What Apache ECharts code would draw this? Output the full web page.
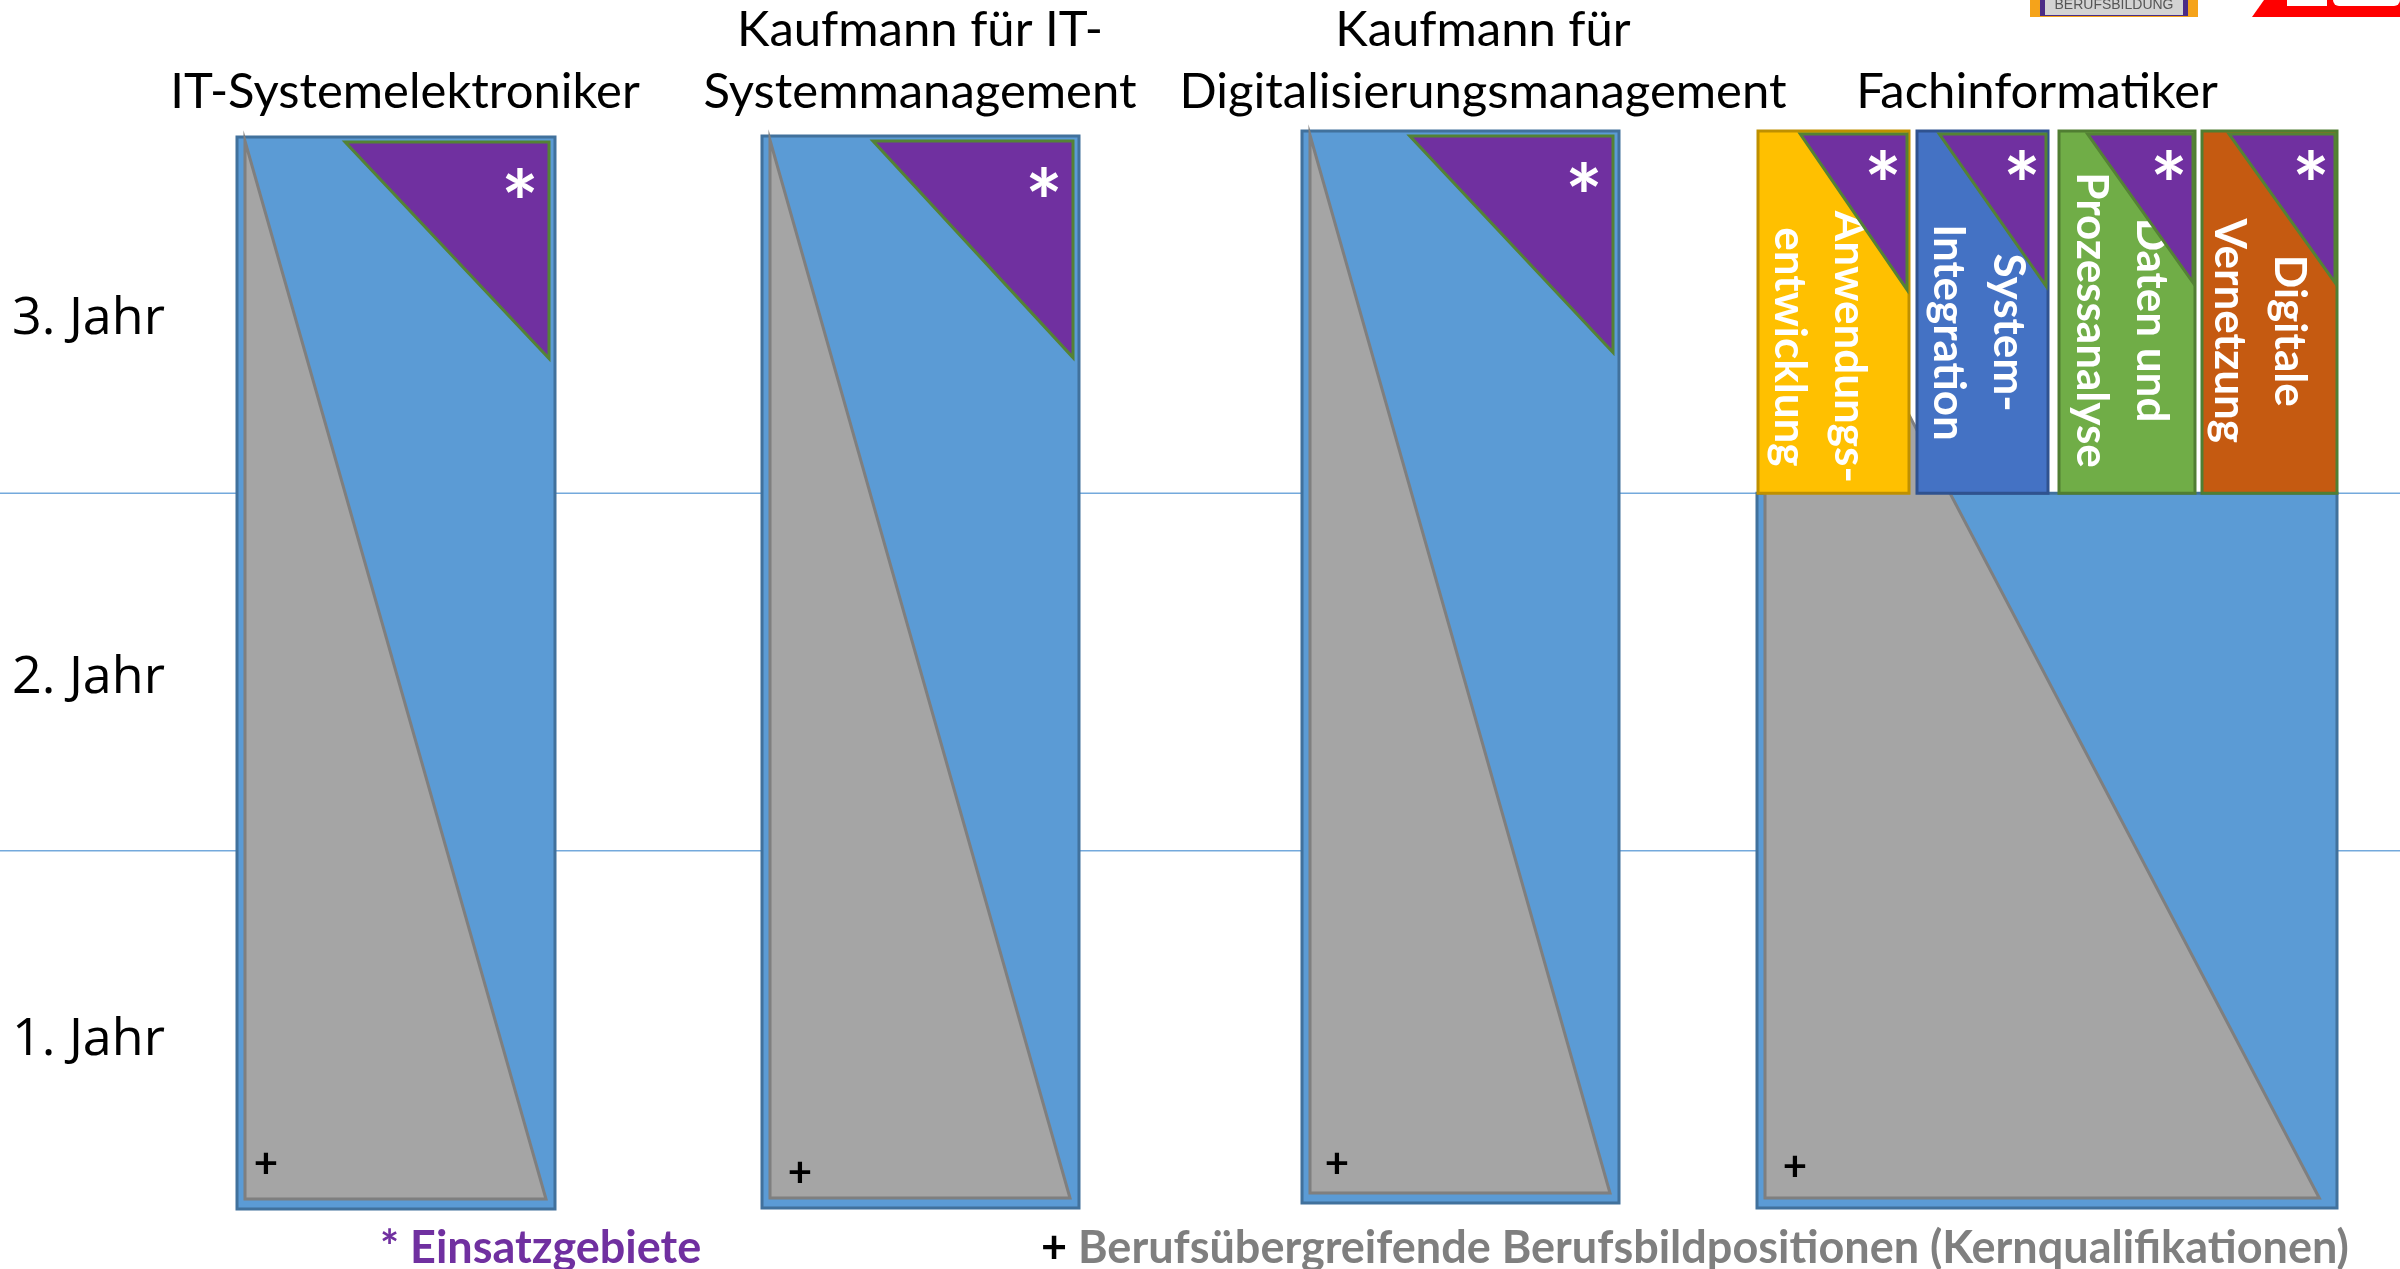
<!DOCTYPE html>
<html>
<head>
<meta charset="utf-8">
<script src="https://cdn.jsdelivr.net/npm/echarts@6/dist/echarts.min.js"></script>
<style>
  html, body { margin: 0; padding: 0; background: #fff; }
  #chart { width: 2400px; height: 1269px; }
</style>
</head>
<body>
<div id="chart"></div>
<script>
// ---- Daten ----
const berufe = ['IT-Systemelektroniker', 'Kaufmann für IT-\nSystemmanagement', 'Kaufmann für\nDigitalisierungsmanagement', 'Fachinformatiker'];
const jahre = ['1. Jahr', '2. Jahr', '3. Jahr'];
const jahrGrenzen = [1, 2];
// Kernqualifikationen (grau): Anteil der Breite im 1. Jahr, Jahr in dem er auf 0 sinkt
const kernStart = [1, 1, 1, 0.985];
const kernEnde = [3, 3, 3, 3];
// Einsatzgebiete (lila): Dauer in Jahren, Anteil der Breite oben
const einsatzDauer = [0.62, 0.62, 0.62, null];
const einsatzAnteil = [0.66, 0.65, 0.66, null];
// Fachinformatiker: Fachrichtungen ab Ende 2. Jahr
const fachrichtungen = ['Anwendungs-\nentwicklung', 'System-\nIntegration', 'Daten und\nProzessanalyse', 'Digitale\nVernetzung'];
const fachBeginn = 2;
const fachEinsatzDauer = [0.43, 0.42, 0.41, 0.41];
const fachEinsatzAnteil = [0.72, 0.83, 0.79, 0.8];

// ---- Layout / Stil ----
const spaltenX = [[237, 555], [762, 1079], [1302, 1619], [1757, 2337]];
const spaltenDy = [1, 0, -5, 0];
const titelX = [405, 920, 1483, 2037];
const plusVersatz = [[0, 0], [9, 10], [6, 6], [9, 4]];
const fachX = [[1758, 1909], [1917, 2048], [2059, 2195], [2202, 2337]];
const fachTextDx = [-14, -4, -6, -10];
const fachTextY = [2.41, 2.45, 2.485, 2.455];
const fachFarben = ['#ffc000', '#4472c4', '#70ad47', '#c55a11'];
const fachRand = ['#bf9000', '#2f528f', '#507e32', '#507e32'];

const fontTitel = '49px Lato';
const fontFach = 'bold 44px Lato';
const fontStern = 'bold 88px Lato';

function stern(x, y) {
  return { type: 'text', x: x, y: y, style: { text: '*', font: fontStern, fill: '#fff', align: 'center', verticalAlign: 'middle' } };
}

function renderGrenze(params, api) {
  const a = api.coord([0, api.value(0)]);
  const b = api.coord([2400, api.value(0)]);
  return { type: 'line', shape: { x1: a[0], y1: a[1], x2: b[0], y2: b[1] }, style: { stroke: '#74a9dc', lineWidth: 1.5 } };
}

function renderSpalte(params, api) {
  const i = api.value(0);
  const dy = spaltenDy[i];
  const xa = spaltenX[i][0], xb = spaltenX[i][1];
  const boxTop = i === 3 ? fachBeginn : 3;
  const bl = api.coord([xa, 0]);
  const tr = api.coord([xb, boxTop]);
  const top3 = api.coord([xa, 3])[1] + dy;
  const L = bl[0], R = tr[0], B = bl[1] + dy, T = tr[1] + dy;
  const els = [];
  els.push({ type: 'rect', shape: { x: L, y: T, width: R - L, height: B - T },
    style: { fill: '#5b9bd5', stroke: '#41719c', lineWidth: 3 } });

  const kTop = api.coord([xa, kernEnde[i]])[1] + dy;
  const kRight = api.coord([xa + (xb - xa) * kernStart[i], 0])[0];
  els.push({ type: 'polygon', shape: { points: [[L + 8, kTop + 4], [L + 8, B - 10], [kRight - 9, B - 10]] },
    style: { fill: '#a5a5a5', stroke: '#7f7f7f', lineWidth: 3 } });

  if (einsatzDauer[i] != null) {
    const eBot = api.coord([xb, 3 - einsatzDauer[i]])[1] + dy;
    const eLeft = api.coord([xb - (xb - xa) * einsatzAnteil[i], 3])[0];
    els.push({ type: 'polygon', shape: { points: [[eLeft, top3 + 5], [R - 6, top3 + 5], [R - 6, eBot]] },
      style: { fill: '#7030a0', stroke: '#548235', lineWidth: 3 } });
    els.push(stern(R - 35, top3 + 70));
  }

  els.push({ type: 'text', x: L + 29 + plusVersatz[i][0], y: B - 45 + plusVersatz[i][1],
    style: { text: '+', font: 'bold 42px Lato', fill: '#000', align: 'center', verticalAlign: 'middle' } });

  els.push({ type: 'text', x: api.coord([titelX[i], 3])[0], y: top3 - dy - 13,
    style: { text: berufe[i], font: fontTitel, fill: '#000', align: 'center', verticalAlign: 'bottom', lineHeight: 62 } });
  return { type: 'group', children: els };
}

function renderFach(params, api) {
  const j = api.value(0);
  const xa = fachX[j][0], xb = fachX[j][1];
  const bl = api.coord([xa, fachBeginn]);
  const tr = api.coord([xb, 3]);
  const L = bl[0], R = tr[0], B = bl[1], T = tr[1] - 5;
  const els = [];
  els.push({ type: 'rect', shape: { x: L, y: T, width: R - L, height: B - T },
    style: { fill: fachFarben[j], stroke: fachRand[j], lineWidth: 3 } });
  const c = api.coord([(xa + xb) / 2, fachTextY[j]]);
  els.push({ type: 'text', x: c[0] + fachTextDx[j], y: c[1], rotation: -Math.PI / 2,
    style: { text: fachrichtungen[j], font: fontFach, fill: '#fff', align: 'center', verticalAlign: 'middle', lineHeight: 60 } });
  const eBot = api.coord([xb, 3 - fachEinsatzDauer[j]])[1];
  const eLeft = api.coord([xb - (xb - xa) * fachEinsatzAnteil[j], 3])[0];
  els.push({ type: 'polygon', shape: { points: [[eLeft, T + 3], [R - 2, T + 3], [R - 2, eBot]] },
    style: { fill: '#7030a0', stroke: '#548235', lineWidth: 3 } });
  els.push(stern(R - 26, T + 58));
  return { type: 'group', children: els };
}

const chart = echarts.init(document.getElementById('chart'));
chart.setOption({
  animation: false,
  grid: { left: 0, right: 0, top: 136, bottom: 61 },
  xAxis: { type: 'value', min: 0, max: 2400, show: false },
  yAxis: {
    type: 'value', min: 0, max: 3, interval: 0.5,
    axisLine: { show: false }, axisTick: { show: false }, splitLine: { show: false },
    axisLabel: {
      inside: true, margin: 12, align: 'left',
      formatter: function (v) {
        if (Math.abs(v % 1 - 0.5) > 1e-6) return '';
        const k = Math.floor(v);
        return '{j' + k + '|' + jahre[k] + '}';
      },
      rich: {
        j0: { color: '#000', fontFamily: 'Open Sans', fontSize: 52, padding: [22, 0, 0, 0] },
        j1: { color: '#000', fontFamily: 'Open Sans', fontSize: 52, padding: [12, 0, 0, 0] },
        j2: { color: '#000', fontFamily: 'Open Sans', fontSize: 52, padding: [10, 0, 0, 0] }
      }
    }
  },
  series: [
    { type: 'custom', z: 1, clip: false, renderItem: renderGrenze, data: jahrGrenzen.map(v => [v]) },
    { type: 'custom', z: 2, clip: false, renderItem: renderSpalte, data: berufe.map((b, i) => [i]) },
    { type: 'custom', z: 3, clip: false, renderItem: renderFach, data: fachrichtungen.map((f, j) => [j]) }
  ],
  graphic: [
    { type: 'text', x: 380, y: 1248, style: { text: '* Einsatzgebiete', font: 'bold 45px Lato', fill: '#7030a0', verticalAlign: 'middle' } },
    { type: 'text', x: 1041, y: 1248, style: {
        text: '{p|+ }{t|Berufsübergreifende Berufsbildpositionen (Kernqualifikationen)}',
        verticalAlign: 'middle',
        rich: {
          p: { fill: '#000', fontFamily: 'Lato', fontWeight: 'bold', fontSize: 45 },
          t: { fill: '#7f7f7f', fontFamily: 'Lato', fontWeight: 'bold', fontSize: 45 }
        }
      } },
    // angeschnittene Logos oben rechts
    { type: 'rect', shape: { x: 2030, y: 0, width: 168, height: 17 }, style: { fill: '#f5a31a' } },
    { type: 'rect', shape: { x: 2040, y: 0, width: 148, height: 16 }, style: { fill: '#4b2c86' } },
    { type: 'rect', shape: { x: 2045, y: 0, width: 138, height: 15 }, style: { fill: '#d3d3d3' } },
    { type: 'text', x: 2114, y: 5, style: { text: 'BERUFSBILDUNG', font: '14px "Liberation Sans"', fill: '#555', align: 'center', verticalAlign: 'middle' } },
    { type: 'polygon', shape: { points: [[2252, 17], [2264, 0], [2400, 0], [2400, 17]] }, style: { fill: '#ff0000' } },
    { type: 'rect', shape: { x: 2287, y: 0, width: 40, height: 6 }, style: { fill: '#fff' } },
    { type: 'rect', shape: { x: 2333, y: 0, width: 67, height: 6, r: [0, 0, 6, 6] }, style: { fill: '#fff' } }
  ]
});
</script>
</body>
</html>
